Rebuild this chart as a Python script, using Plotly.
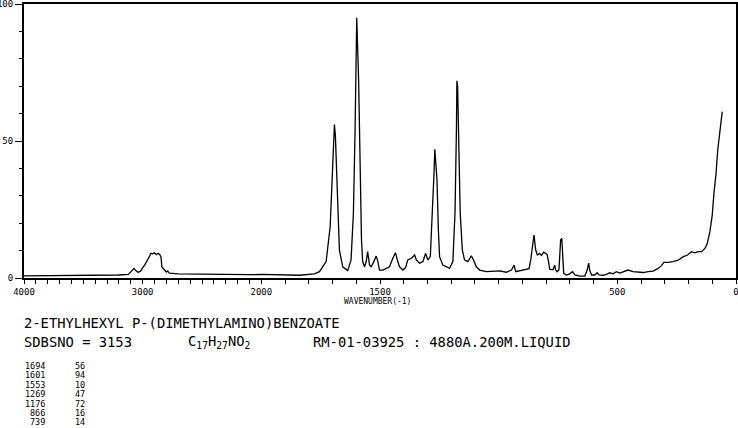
import numpy as np
import plotly.graph_objects as go

# ---------------- data ----------------
wavenumber = [4000, 3600, 3400, 3200, 3120, 3090, 3073, 3060, 3040, 3020, 3000, 2980, 2960, 2945,
              2930, 2915, 2900, 2885, 2870, 2855, 2845, 2838, 2825, 2800, 2790, 2775, 2700, 2500,
              2300, 2100, 2000, 1840, 1776, 1755, 1727, 1710, 1702, 1692, 1688, 1678, 1671, 1657,
              1636, 1622, 1612, 1605, 1598, 1590, 1584, 1578, 1573, 1565, 1558, 1552, 1544, 1537,
              1527, 1516, 1509, 1502, 1488, 1474, 1460, 1446, 1435, 1425, 1418, 1404, 1392, 1383,
              1368, 1354, 1347, 1333, 1319, 1308, 1298, 1288, 1280, 1273, 1269, 1260, 1254, 1249,
              1235, 1221, 1207, 1193, 1184, 1178, 1176, 1173, 1168, 1162, 1153, 1144, 1130, 1115,
              1106, 1094, 1080, 1052, 996, 968, 946, 935, 928, 911, 890, 872, 865, 858, 851, 844,
              837, 827, 820, 810, 802, 796, 790, 785, 771, 764, 760, 754, 746, 739, 734, 730, 726,
              714, 701, 689, 679, 658, 637, 627, 621, 616, 608, 595, 585, 577, 560, 546, 532, 518,
              504, 490, 476, 455, 434, 412, 391, 370, 349, 328, 314, 304, 286, 265, 244, 222, 206,
              187, 173, 159, 145, 131, 121, 110, 100, 93, 84, 77, 70, 63, 58]
intensity = [0.8, 0.9, 1.0, 1.1, 1.3, 2.5, 3.5, 2.8, 2.1, 2.4, 3.5, 5.0, 6.5, 7.5,
             9.0, 8.8, 9.2, 8.5, 9.0, 8.5, 7.5, 4.0, 3.5, 2.2, 2.6, 1.8, 1.5, 1.3,
             1.3, 1.2, 1.3, 1.0, 1.5, 2.3, 6.0, 18.7, 35.8, 56.0, 52.0, 23.7, 10.2, 4.1,
             2.7, 6.6, 23.7, 54.0, 95.0, 72.0, 44.0, 13.9, 6.0, 4.1, 6.0, 9.6, 4.7, 4.1,
             5.8, 8.0, 6.0, 2.9, 2.9, 3.5, 4.1, 7.2, 9.2, 6.0, 4.1, 2.9, 3.8, 6.6,
             7.2, 8.4, 6.6, 5.4, 6.0, 9.0, 6.6, 7.8, 21.0, 37.0, 47.0, 36.0, 17.5, 7.8,
             4.7, 4.1, 3.5, 6.0, 23.6, 54.0, 72.0, 70.0, 48.0, 23.6, 10.2, 6.6, 6.0, 8.1,
             6.6, 4.1, 2.9, 2.3, 2.6, 2.1, 2.9, 4.7, 2.3, 2.6, 3.2, 3.4, 6.6, 11.4, 15.7, 10.2,
             8.4, 9.0, 8.2, 9.4, 9.0, 8.6, 6.0, 3.2, 3.0, 4.7, 3.0, 2.3, 2.9, 13.9, 14.5, 6.0, 1.7,
             1.1, 1.5, 2.3, 1.1, 0.7, 0.7, 2.9, 5.4, 2.6, 1.1, 1.1, 1.9, 1.1, 1.0, 1.3, 1.9, 1.5,
             2.3, 1.8, 2.3, 2.9, 2.3, 2.1, 2.0, 2.3, 2.5, 3.5, 4.5, 5.7, 5.7, 6.0, 6.5, 7.8, 8.3,
             9.6, 9.2, 9.6, 9.6, 10.8, 12.6, 16.9, 23.0, 30.9, 38.2, 46.7, 52.8, 57.7, 60.7]

x_tick_values = list(range(4000, -1, -100))
x_tick_labels = ["4000", "3000", "2000", "1500", "500", "0"]
y_tick_values = [0, 50, 100]
y_tick_labels = ["0", "50", "100"]

title_line = "2-ETHYLHEXYL P-(DIMETHYLAMINO)BENZOATE"
sdbs_text = "SDBSNO = 3153"
formula_text = "C<sub>17</sub>H<sub>27</sub>NO<sub>2</sub>"
method_text = "RM-01-03925 : 4880A.200M.LIQUID"
peak_wavenumbers = [1694, 1601, 1553, 1269, 1176, 866, 739]
peak_intensities = [56, 94, 10, 47, 72, 16, 14]


# piecewise axis: 4000-2000 compressed by a factor 2 relative to 2000-0
def to_axis(w):
    w = np.asarray(w, dtype=float)
    return np.where(w >= 2000, (4000 - w) / 2.0, 1000 + (2000 - w))


FONT = "DejaVu Sans Mono"
W, H = 738, 428
L, R, T, B = 24, 2, 4, 150
PW, PH = W - L - R, H - T - B

fig = go.Figure()
fig.add_trace(go.Scatter(x=to_axis(wavenumber), y=intensity, mode="lines",
                         line=dict(color="black", width=1.3), hoverinfo="skip"))

tick_text = [str(w) if str(w) in x_tick_labels else "" for w in x_tick_values]

fig.update_layout(
    width=W, height=H, margin=dict(l=L, r=R, t=T, b=B, autoexpand=False),
    paper_bgcolor="white", plot_bgcolor="white", showlegend=False,
    font=dict(family=FONT, color="black", size=9),
    xaxis=dict(range=[0, 3000], tickmode="array", tickvals=to_axis(x_tick_values).tolist(),
               ticktext=tick_text, ticks="outside", ticklen=4, tickwidth=1, tickcolor="black",
               showline=True, linecolor="black", linewidth=2, mirror=True, showgrid=False,
               zeroline=False, automargin=False, ticklabeloverflow="allow",
               tickfont=dict(family=FONT, size=9, color="black")),
    yaxis=dict(range=[0, 100], tickmode="array", tickvals=y_tick_values, ticktext=y_tick_labels,
               ticks="outside", ticklen=7, tickwidth=1, tickcolor="black",
               minor=dict(tickmode="linear", tick0=0, dtick=10, ticks="outside", ticklen=3,
                          tickcolor="black", tickwidth=1),
               showline=True, linecolor="black", linewidth=2, mirror=True, showgrid=False,
               zeroline=False, automargin=False, ticklabeloverflow="allow",
               tickfont=dict(family=FONT, size=9, color="black")),
)


def px(xp):
    return (xp - L) / PW


def py(yp):
    return (H - B - yp) / PH


def add_text(text, xp, yp, size, anchor="left"):
    fig.add_annotation(text=text, x=px(xp), y=py(yp), xref="paper", yref="paper",
                       xanchor=anchor, yanchor="middle", showarrow=False,
                       font=dict(family=FONT, size=size, color="black"))


add_text("WAVENUMBER(-1)", 377, 301, 8, anchor="center")
add_text(title_line, 22, 323, 13.8)
add_text(sdbs_text, 22, 342, 13.8)
add_text(formula_text, 186, 342, 13.8)
add_text(method_text, 311, 342, 13.8)

row_y = [366, 375.4, 384.8, 394.2, 403.6, 413, 422.4]
for w, v, yy in zip(peak_wavenumbers, peak_intensities, row_y):
    add_text(str(w), 47, yy, 8.5, anchor="right")
    add_text(str(v), 87, yy, 8.5, anchor="right")

fig.write_html("out.html", config={"displayModeBar": False, "staticPlot": True},
               post_script="document.body.style.margin='0';document.body.style.padding='0';")
